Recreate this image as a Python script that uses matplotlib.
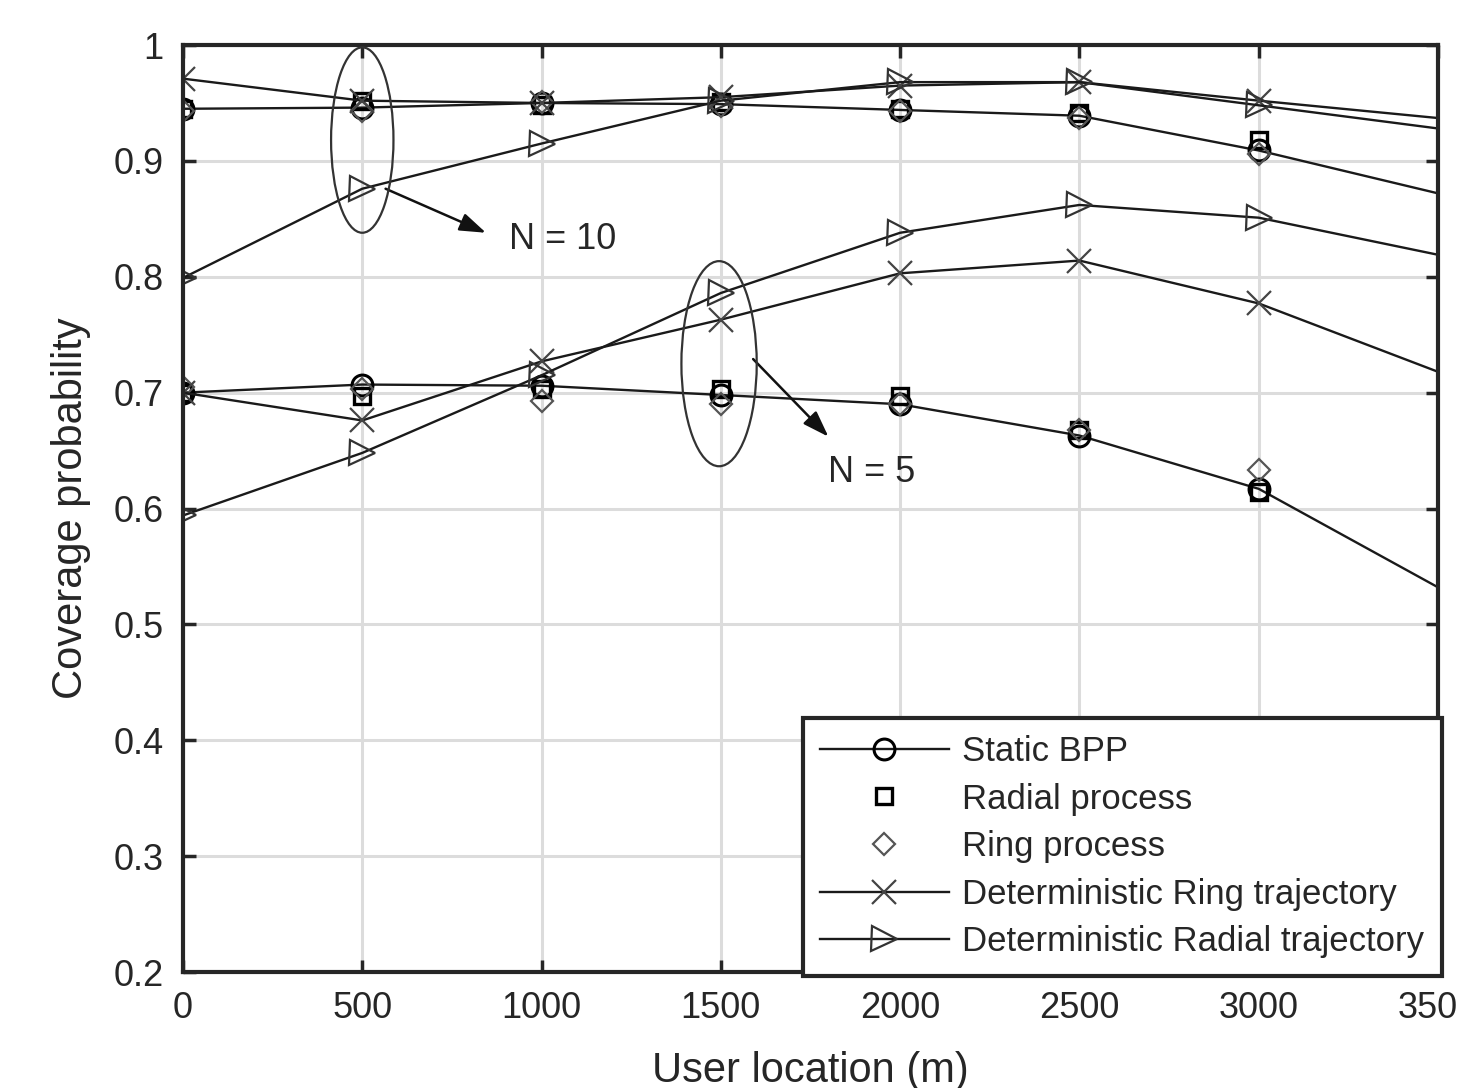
import matplotlib
matplotlib.use("Agg")
import matplotlib.pyplot as plt
from matplotlib.patches import Ellipse

plt.rcParams['font.family'] = ['Liberation Sans', 'DejaVu Sans']

x = [0, 500, 1000, 1500, 2000, 2500, 3000, 3500]
x_proc = [0, 500, 1000, 1500, 2000, 2500, 3000]

# N = 10
static_10 = [0.945, 0.946, 0.950, 0.949, 0.944, 0.939, 0.909, 0.872]
radial_proc_10 = [0.945, 0.952, 0.948, 0.951, 0.945, 0.941, 0.918]
ring_proc_10 = [0.943, 0.943, 0.951, 0.947, 0.943, 0.937, 0.906]
ring_traj_10 = [0.971, 0.952, 0.950, 0.955, 0.965, 0.968, 0.952, 0.937]
radial_traj_10 = [0.799, 0.876, 0.915, 0.952, 0.968, 0.968, 0.948, 0.928]

# N = 5
static_5 = [0.700, 0.707, 0.706, 0.698, 0.690, 0.663, 0.617, 0.532]
radial_proc_5 = [0.700, 0.697, 0.703, 0.703, 0.697, 0.668, 0.614]
ring_proc_5 = [0.705, 0.703, 0.693, 0.690, 0.690, 0.668, 0.633]
ring_traj_5 = [0.700, 0.676, 0.727, 0.763, 0.803, 0.814, 0.777, 0.718]
radial_traj_5 = [0.594, 0.648, 0.715, 0.786, 0.838, 0.862, 0.851, 0.819]

labels = ["Static BPP", "Radial process", "Ring process",
          "Deterministic Ring trajectory", "Deterministic Radial trajectory"]
xticks = [0, 500, 1000, 1500, 2000, 2500, 3000, 3500]
yticks = [0.2, 0.3, 0.4, 0.5, 0.6, 0.7, 0.8, 0.9, 1.0]

fig = plt.figure(figsize=(14.58, 10.88), dpi=100)
ax = fig.add_axes([0.1255, 0.1066, 0.8608, 0.852])

LC = '#1a1a1a'
lw = 1.7
ms = 15
mev = slice(0, 7)

handles = []
for grp in [(static_10, radial_proc_10, ring_proc_10, ring_traj_10, radial_traj_10),
            (static_5, radial_proc_5, ring_proc_5, ring_traj_5, radial_traj_5)]:
    s, rp, rg, rt, rdt = grp
    h1, = ax.plot(x, s, '-', color=LC, lw=lw, marker='o', ms=ms, mfc='none',
                  mec='#000000', mew=2.2, markevery=mev, label=labels[0])
    h2, = ax.plot(x_proc, rp, 's', color='#000000', ms=ms - 3, mfc='none',
                  mew=2.4, label=labels[1])
    h3, = ax.plot(x_proc, rg, 'D', color='#555555', ms=ms - 4, mfc='none',
                  mew=1.6, label=labels[2])
    h4, = ax.plot(x, rt, '-', color=LC, lw=lw, marker='x', ms=ms + 2,
                  mec='#444444', mew=1.6, markevery=mev, label=labels[3])
    h5, = ax.plot(x, rdt, '-', color=LC, lw=lw, marker='>', ms=ms + 3, mfc='none',
                  mec='#333333', mew=1.6, markevery=mev, label=labels[4])
    if not handles:
        handles = [h1, h2, h3, h4, h5]

ax.set_xlim(0, 3500)
ax.set_ylim(0.2, 1.0)
ax.set_xticks(xticks)
ax.set_yticks(yticks)
ax.set_yticklabels(['%g' % v for v in yticks])
ax.grid(True, color='#dcdcdc', lw=2.2)
ax.set_axisbelow(True)
ax.tick_params(direction='in', length=9, width=2.5, top=True, right=True,
               labelsize=26, colors='#262626', pad=14)
for sp in ax.spines.values():
    sp.set_linewidth(3)
    sp.set_color('#262626')

ax.set_xlabel('User location (m)', fontsize=30, color='#262626', labelpad=18)
ax.set_ylabel('Coverage probability', fontsize=30, color='#262626', labelpad=16)

# Ellipses and annotations
ax.add_patch(Ellipse((500, 0.918), 174, 0.160, fill=False, ec='#333333', lw=1.6, zorder=5))
ax.add_patch(Ellipse((1495, 0.725), 210, 0.177, fill=False, ec='#333333', lw=1.6, zorder=5))

ax.annotate('', xy=(845, 0.838), xytext=(565, 0.876),
            arrowprops=dict(arrowstyle='-|>,head_length=1.6,head_width=0.55',
                            color='#111111', lw=1.8, shrinkA=0, shrinkB=0))
ax.text(910, 0.832, 'N = 10', fontsize=26, color='#262626', va='center', ha='left')

ax.annotate('', xy=(1800, 0.662), xytext=(1590, 0.729),
            arrowprops=dict(arrowstyle='-|>,head_length=1.6,head_width=0.55',
                            color='#111111', lw=1.8, shrinkA=0, shrinkB=0))
ax.text(1800, 0.631, 'N = 5', fontsize=26, color='#262626', va='center', ha='left')

leg = ax.legend(handles=handles, loc='lower right', bbox_to_anchor=(1.003, -0.004),
                fontsize=25, frameon=True, fancybox=False, edgecolor='#262626',
                framealpha=1, handlelength=3.7, handletextpad=0.4, labelspacing=0.42,
                borderpad=0.5, borderaxespad=0)
leg.get_frame().set_linewidth(3)
for t in leg.get_texts():
    t.set_color('#262626')

fig.savefig('out.png', dpi=100)
